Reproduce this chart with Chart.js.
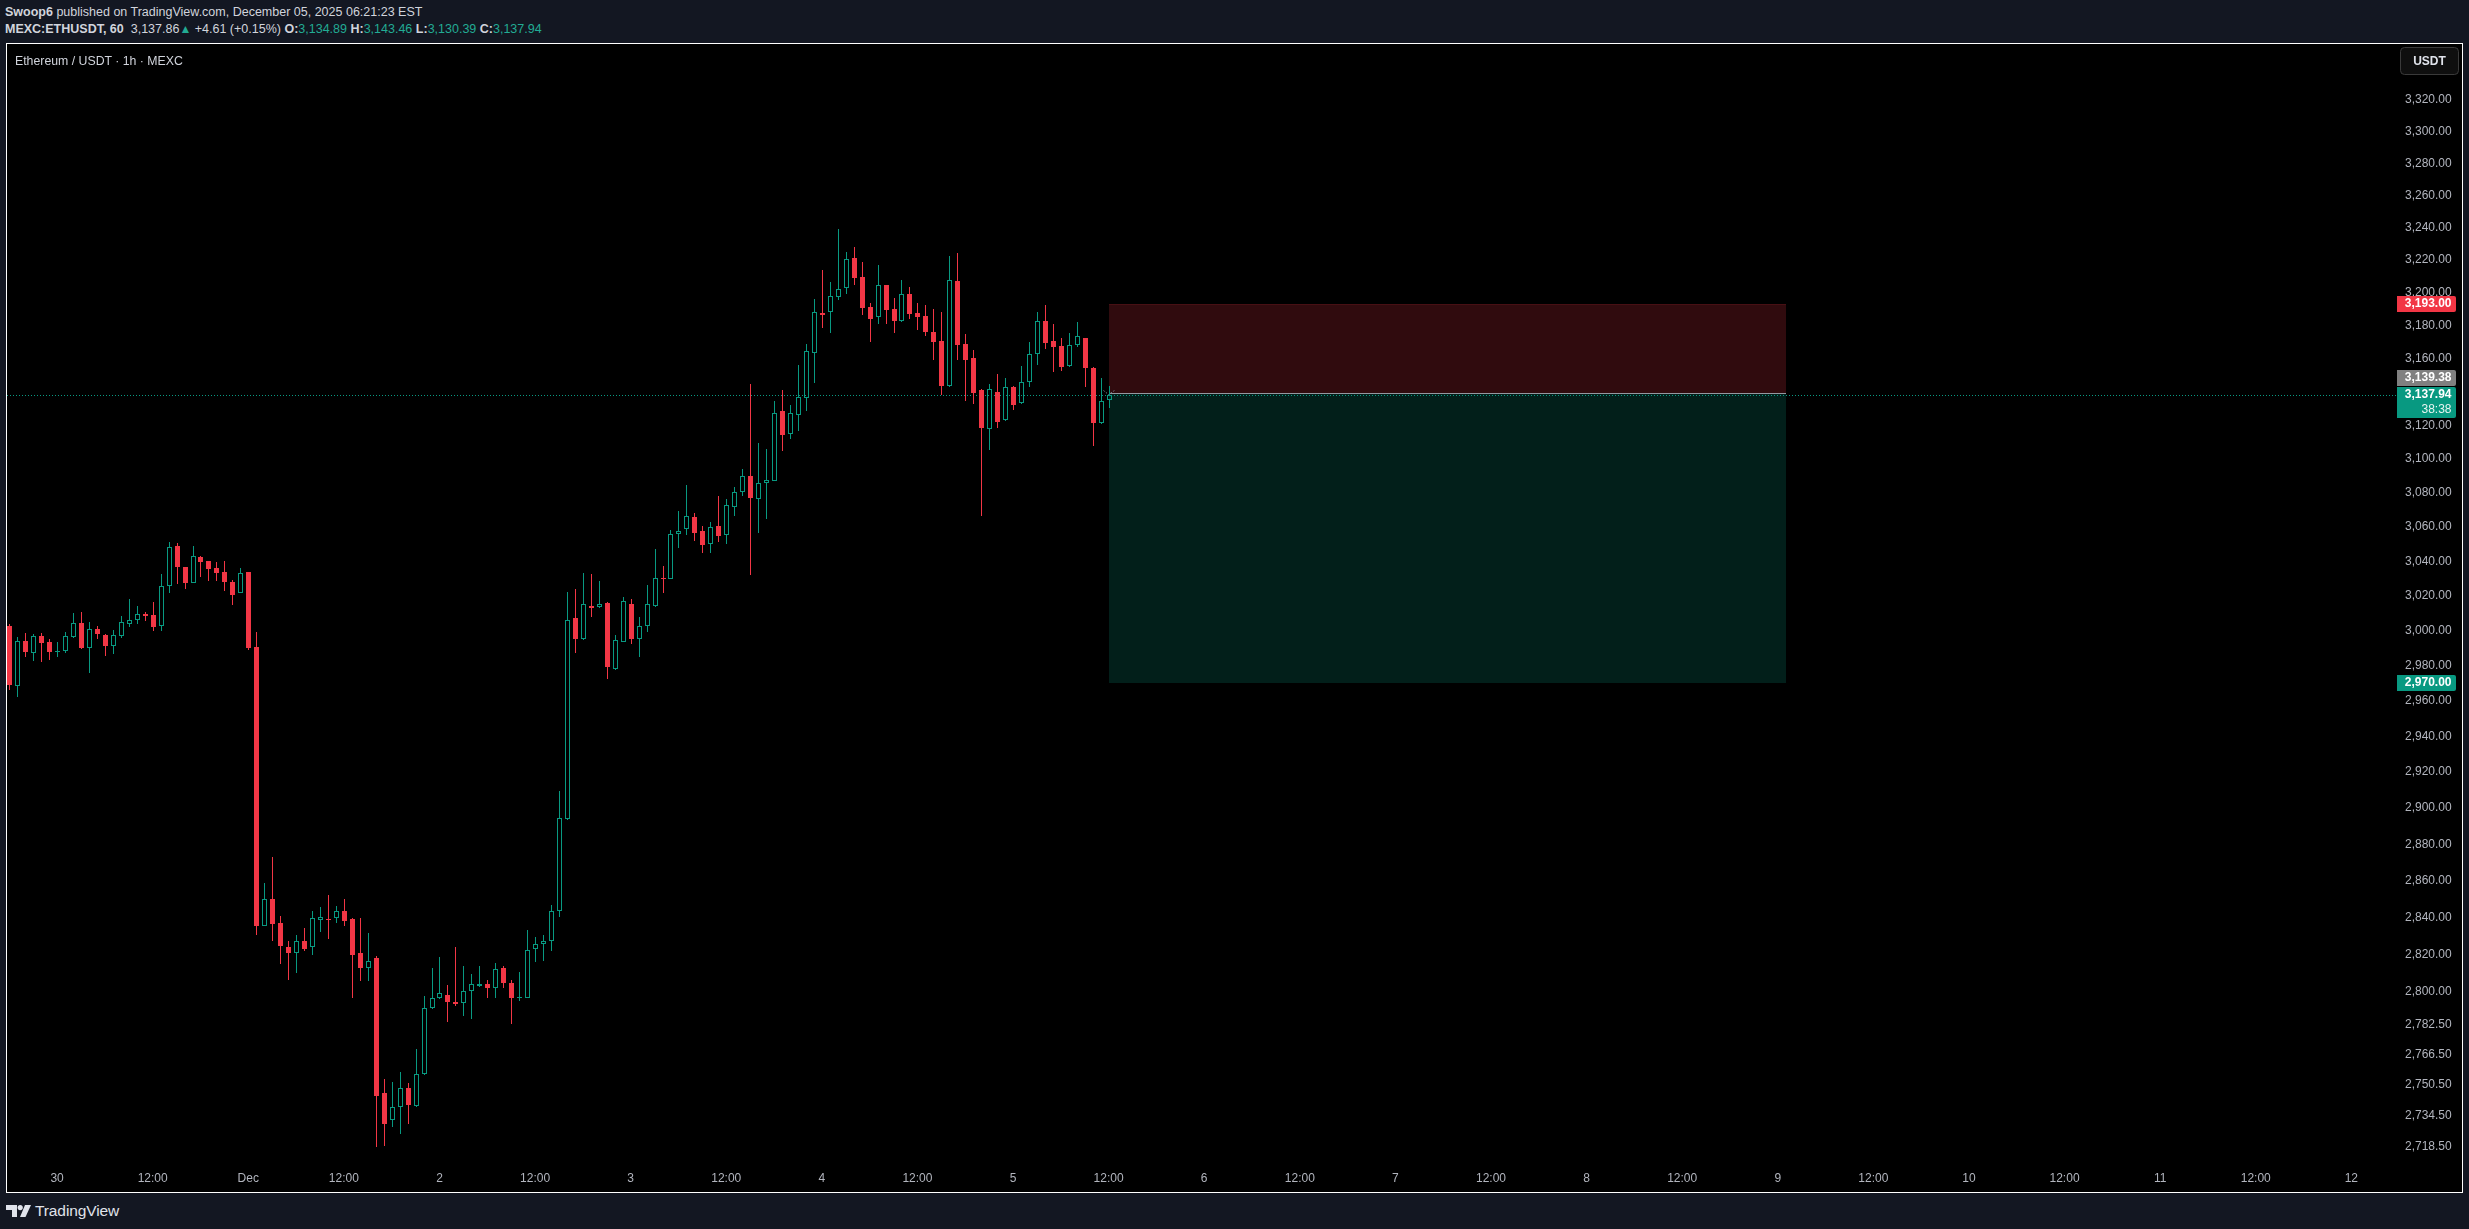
<!DOCTYPE html>
<html>
<head>
<meta charset="utf-8">
<title>ETHUSDT 1h</title>
<script src="https://cdn.jsdelivr.net/npm/chart.js@4.4.1/dist/chart.umd.min.js"></script>
<style>
  html, body { margin: 0; padding: 0; background: #131722; width: 2469px; height: 1229px; overflow: hidden;
    font-family: "Liberation Sans", Arial, sans-serif; }
  #hdr { position: absolute; left: 5px; top: 4px; color: #d1d4dc; font-size: 12.5px; line-height: 17px; white-space: nowrap; }
  #hdr b { font-weight: 700; }
  #hdr .v { color: #22ab94; }
  #hdr .up { color: #22ab94; font-size: 12px; }
  #frame { position: absolute; left: 6px; top: 43px; width: 2457px; height: 1150px; box-sizing: border-box;
    border: 1px solid #ffffff; background: #000; }
  #chart { position: absolute; left: 0; top: 0; }
  #title { position: absolute; left: 8px; top: 9px; color: #d1d4dc; font-size: 12.3px; line-height: 17px; white-space: nowrap; }
  #logo { position: absolute; left: 6px; top: 1202px; height: 18px; display: flex; align-items: center; color: #e0e3eb;
    font-size: 15.5px; letter-spacing: -0.1px; }
  #logo svg { margin-right: 4px; }
</style>
</head>
<body>

<div id="hdr">
  <div><b>Swoop6</b> published on TradingView.com, December 05, 2025 06:21:23 EST</div>
  <div><b>MEXC:ETHUSDT, 60</b>&nbsp; 3,137.86<span class="up">▲</span> +4.61 (+0.15%) <b>O:</b><span class="v">3,134.89</span> <b>H:</b><span class="v">3,143.46</span> <b>L:</b><span class="v">3,130.39</span> <b>C:</b><span class="v">3,137.94</span></div>
</div>

<div id="frame">
  <canvas id="chart" width="2455" height="1148"></canvas>
  <div id="title">Ethereum / USDT · 1h · MEXC</div>
</div>

<div id="logo">
  <svg width="25" height="12" viewBox="0 0 25 12">
    <path d="M0 0h11v12h-5v-7h-6z" fill="#e0e3eb"/>
    <circle cx="14.2" cy="2.6" r="2.6" fill="#e0e3eb"/>
    <path d="M19 0h6l-5.5 12h-5.5z" fill="#e0e3eb"/>
  </svg>
  <span>TradingView</span>
</div>

<script>
/* ─── Candles: 1h bars from Nov 29 18:00 (index 0) to Dec 5 12:00 (index 138) ─── */
const opens = [
  3002.7, 2968.6, 2994.1, 2987.4, 2996.9, 2993.5, 2988.0, 2988.5, 2996.4, 3004.2,
  2990.2, 3000.9, 2997.5, 2991.4, 2997.1, 3004.0, 3006.3, 3009.6, 3009.0, 3002.7,
  3025.9, 3048.8, 3036.7, 3027.6, 3042.5, 3040.1, 3036.1, 3033.8, 3028.0, 3021.6,
  3033.8, 2990.6, 2835.6, 2849.9, 2836.9, 2824.0, 2821.0, 2827.3, 2824.2, 2838.8,
  2839.3, 2839.5, 2843.4, 2839.3, 2820.7, 2812.5, 2818.0, 2746.3, 2732.1, 2738.8,
  2748.9, 2739.3, 2756.2, 2791.2, 2796.5, 2798.3, 2794.4, 2794.2, 2800.3, 2803.3,
  2804.0, 2802.2, 2812.8, 2804.8, 2796.8, 2796.8, 2823.1, 2825.8, 2827.0, 2843.7,
  2894.0, 3007.3, 2994.9, 3014.1, 3013.4, 3015.9, 2977.9, 2993.7, 3015.2, 2994.9,
  3002.4, 3013.9, 3030.5, 3029.6, 3055.7, 3059.0, 3065.7, 3057.6, 3050.2, 3060.5,
  3055.0, 3071.9, 3080.7, 3089.7, 3076.4, 3085.5, 3087.2, 3128.4, 3114.6, 3126.3,
  3136.5, 3163.6, 3187.4, 3188.0, 3197.2, 3202.7, 3221.3, 3209.6, 3191.3, 3185.0,
  3204.7, 3189.9, 3183.0, 3199.2, 3187.6, 3185.8, 3176.1, 3170.6, 3143.3, 3207.2,
  3168.5, 3160.4, 3141.2, 3118.0, 3139.9, 3123.0, 3143.0, 3133.1, 3145.8, 3162.6,
  3182.8, 3170.6, 3167.6, 3155.4, 3168.3, 3172.5, 3154.4, 3121.5, 3134.89
];
const highs = [
  3003.8, 2996.4, 2998.7, 2998.1, 2998.7, 2995.2, 2993.5, 2999.2, 3010.1, 3010.7,
  3005.0, 3002.5, 2997.8, 3000.4, 3008.4, 3018.2, 3014.2, 3010.7, 3016.5, 3032.6,
  3051.2, 3050.6, 3036.9, 3048.8, 3043.0, 3040.3, 3039.6, 3040.1, 3029.2, 3036.1,
  3034.0, 2998.9, 2859.0, 2873.0, 2840.9, 2827.3, 2830.5, 2834.4, 2843.4, 2845.8,
  2852.2, 2846.2, 2849.9, 2839.7, 2839.7, 2831.6, 2818.9, 2753.7, 2752.2, 2757.4,
  2751.6, 2769.5, 2797.7, 2812.8, 2818.6, 2803.6, 2824.0, 2813.8, 2809.5, 2813.8,
  2806.0, 2815.4, 2813.8, 2806.4, 2810.6, 2833.3, 2829.5, 2830.6, 2847.0, 2909.4,
  3022.3, 3023.9, 3033.2, 3032.7, 3028.7, 3016.5, 2997.5, 3019.3, 3018.1, 3007.8,
  3026.3, 3047.1, 3037.2, 3058.3, 3069.3, 3084.6, 3068.0, 3060.5, 3062.9, 3078.1,
  3076.2, 3083.4, 3094.0, 3144.7, 3109.5, 3105.9, 3134.6, 3141.2, 3131.9, 3156.2,
  3168.9, 3196.1, 3213.9, 3206.6, 3239.2, 3225.0, 3228.1, 3218.8, 3193.7, 3216.9,
  3204.9, 3196.7, 3207.8, 3203.5, 3193.7, 3192.5, 3190.1, 3188.3, 3222.5, 3224.4,
  3175.1, 3165.2, 3141.6, 3144.8, 3150.9, 3148.4, 3143.7, 3155.6, 3170.1, 3188.3,
  3192.5, 3180.7, 3172.5, 3175.7, 3182.4, 3172.7, 3155.0, 3148.0, 3143.46
];
const lows = [
  2966.2, 2962.4, 2984.9, 2982.8, 2982.1, 2983.2, 2984.9, 2987.4, 2995.8, 2989.5,
  2975.8, 2995.2, 2985.5, 2986.6, 2996.0, 3002.1, 3003.8, 3005.5, 2999.8, 2999.8,
  3021.6, 3026.8, 3024.0, 3027.4, 3030.9, 3028.6, 3028.6, 3022.8, 3014.7, 3021.4,
  2988.9, 2830.7, 2835.4, 2827.5, 2814.6, 2806.5, 2810.2, 2821.9, 2819.6, 2832.1,
  2828.4, 2836.9, 2835.3, 2796.7, 2805.8, 2805.8, 2718.3, 2718.8, 2728.6, 2725.1,
  2730.3, 2739.1, 2756.0, 2791.0, 2796.3, 2783.7, 2792.6, 2786.9, 2785.3, 2802.7,
  2796.8, 2796.8, 2802.2, 2782.6, 2795.2, 2796.6, 2816.1, 2816.7, 2822.1, 2840.5,
  2893.6, 2987.4, 2994.7, 3007.5, 3012.7, 2972.3, 2977.7, 2993.5, 2992.5, 2985.1,
  2999.2, 3013.7, 3021.4, 3029.4, 3047.8, 3055.2, 3051.9, 3044.5, 3044.9, 3050.9,
  3050.2, 3066.6, 3078.3, 3031.8, 3056.6, 3064.7, 3087.0, 3104.9, 3111.7, 3116.6,
  3128.7, 3145.1, 3178.4, 3175.3, 3195.7, 3199.4, 3204.9, 3186.6, 3170.2, 3181.1,
  3181.1, 3175.3, 3182.4, 3184.2, 3177.5, 3173.5, 3159.4, 3138.3, 3143.1, 3159.4,
  3134.7, 3132.9, 3066.5, 3105.5, 3118.6, 3122.8, 3129.3, 3132.9, 3143.1, 3156.3,
  3166.0, 3151.9, 3152.5, 3155.2, 3166.8, 3143.1, 3107.9, 3120.9, 3130.39
];
const closes = [
  2969.0, 2994.1, 2987.9, 2996.9, 2993.1, 2987.9, 2988.5, 2996.9, 3004.2, 2990.0,
  3000.9, 2998.3, 2991.2, 2997.5, 3005.0, 3006.1, 3009.6, 3008.4, 3002.1, 3025.7,
  3048.3, 3036.7, 3027.4, 3043.0, 3039.6, 3035.5, 3033.2, 3028.0, 3020.5, 3033.2,
  2990.0, 2835.6, 2849.9, 2836.7, 2824.7, 2821.0, 2827.3, 2823.1, 2839.7, 2840.2,
  2838.8, 2843.4, 2837.8, 2819.8, 2812.5, 2816.2, 2744.7, 2730.0, 2738.8, 2748.9,
  2740.1, 2756.2, 2791.1, 2796.5, 2799.2, 2794.7, 2793.3, 2800.3, 2804.0, 2804.0,
  2802.2, 2812.1, 2804.9, 2796.8, 2797.2, 2822.4, 2825.7, 2827.3, 2843.5, 2894.2,
  3005.9, 2994.9, 3015.0, 3012.7, 3015.0, 2979.3, 2994.4, 3016.9, 2994.9, 3002.4,
  3015.2, 3030.1, 3029.6, 3055.7, 3057.4, 3066.2, 3056.6, 3049.7, 3059.8, 3054.7,
  3072.6, 3080.3, 3089.7, 3076.9, 3085.6, 3087.4, 3127.1, 3114.0, 3127.1, 3136.8,
  3164.4, 3188.0, 3186.6, 3197.8, 3202.1, 3220.5, 3209.2, 3190.8, 3184.2, 3204.5,
  3189.5, 3183.0, 3199.0, 3187.2, 3185.4, 3175.9, 3170.2, 3143.7, 3207.6, 3168.0,
  3159.4, 3139.5, 3118.6, 3141.6, 3122.2, 3142.9, 3132.3, 3145.8, 3162.6, 3182.6,
  3169.6, 3167.2, 3155.2, 3168.3, 3173.8, 3154.0, 3121.5, 3134.3, 3137.94
];

/* ─── Time axis (hours from Nov 29 18:00) ─── */
const timeTickHours  = [6, 18, 30, 42, 54, 66, 78, 90, 102, 114, 126, 138, 150, 162, 174, 186,
                        198, 210, 222, 234, 246, 258, 270, 282, 294];
const timeTickLabels = ['30', '12:00', 'Dec', '12:00', '2', '12:00', '3', '12:00', '4', '12:00',
                        '5', '12:00', '6', '12:00', '7', '12:00', '8', '12:00', '9', '12:00',
                        '10', '12:00', '11', '12:00', '12'];

/* ─── Price axis (log scale, as TradingView labels it) ─── */
const priceTicks = [3320, 3300, 3280, 3260, 3240, 3220, 3200, 3180, 3160, 3120, 3100, 3080,
                    3060, 3040, 3020, 3000, 2980, 2960, 2940, 2920, 2900, 2880, 2860, 2840,
                    2820, 2800, 2782.5, 2766.5, 2750.5, 2734.5, 2718.5];

/* ─── Short position tool + last price ─── */
const stopPrice   = 3193.00;
const entryPrice  = 3139.38;
const targetPrice = 2970.00;
const lastPrice   = 3137.94;
const countdown   = '38:38';
const positionFrom = 138;   // hour index where the tool starts
const positionTo   = 223;   // hour index where the tool ends

/* ─── Styling ─── */
const GREEN = '#089981';
const RED   = '#F23645';
const AXIS_TEXT = '#b2b5be';
const FONT = '"Liberation Sans", Arial, sans-serif';

const fmtPrice = v => Number(v).toLocaleString('en-US', { minimumFractionDigits: 2, maximumFractionDigits: 2 });

function drawTag(ctx, area, top, h, bg, lines) {
  const x0 = area.right + 1, w = 59;
  ctx.fillStyle = bg;
  ctx.beginPath();
  ctx.roundRect(x0, top, w, h, [0, 2, 2, 0]);
  ctx.fill();
  ctx.textAlign = 'right';
  ctx.textBaseline = 'middle';
  lines.forEach((ln, k) => {
    ctx.fillStyle = ln.color || '#ffffff';
    ctx.font = `${ln.bold ? 'bold ' : ''}12px ${FONT}`;
    ctx.fillText(ln.text, x0 + 54.5, top + 8 + k * 15);
  });
}

const tradingViewLook = {
  id: 'tradingViewLook',
  beforeDatasetsDraw(chart) {
    const { ctx, chartArea: a, scales: { x, y } } = chart;
    ctx.save();
    ctx.beginPath();
    ctx.rect(a.left, a.top, a.right - a.left, a.bottom - a.top);
    ctx.clip();

    // position tool zones
    const bx0 = Math.round(x.getPixelForValue(positionFrom));
    const bx1 = Math.round(x.getPixelForValue(positionTo));
    const yS = Math.round(y.getPixelForValue(stopPrice));
    const yE = Math.round(y.getPixelForValue(entryPrice));
    const yT = Math.round(y.getPixelForValue(targetPrice));
    ctx.fillStyle = 'rgba(242,54,69,0.2)';
    ctx.fillRect(bx0, yS, bx1 - bx0, yE - yS);
    ctx.fillStyle = 'rgba(242,54,69,0.12)';
    ctx.fillRect(bx0, yS, bx1 - bx0, 1);
    ctx.fillStyle = 'rgba(8,153,129,0.2)';
    ctx.fillRect(bx0, yE, bx1 - bx0, yT - yE);
    ctx.fillStyle = '#9598a1';
    ctx.fillRect(bx0, yE, bx1 - bx0, 1);

    // small dashed entry marker
    ctx.strokeStyle = '#787b86';
    ctx.lineWidth = 1;
    ctx.setLineDash([1.5, 1.5]);
    ctx.beginPath();
    ctx.moveTo(bx0 - 5.5, yE - 2.5);
    ctx.lineTo(bx0 - 0.5, yE + 1.5);
    ctx.lineTo(bx0 + 5.5, yE - 2.5);
    ctx.stroke();

    // last price dotted line
    const yL = Math.round(y.getPixelForValue(lastPrice)) + 0.5;
    ctx.strokeStyle = GREEN;
    ctx.setLineDash([1, 2]);
    ctx.beginPath();
    ctx.moveTo(a.left, yL);
    ctx.lineTo(a.right, yL);
    ctx.stroke();
    ctx.setLineDash([]);

    // candles
    opens.forEach((o, i) => {
      const c = closes[i];
      const cx = Math.round(x.getPixelForValue(i));
      const yo = y.getPixelForValue(o), yc = y.getPixelForValue(c);
      const top = Math.round(Math.min(yo, yc));
      const bot = Math.max(top + 1, Math.round(Math.max(yo, yc)));
      const hi = Math.round(y.getPixelForValue(highs[i]));
      const lo = Math.round(y.getPixelForValue(lows[i]));
      if (c >= o) {
        ctx.fillStyle = GREEN;
        ctx.fillRect(cx, hi, 1, top - hi);
        ctx.fillRect(cx, bot, 1, lo - bot);
        if (bot - top <= 2) {
          ctx.fillRect(cx - 2, top, 5, bot - top);
        } else {
          ctx.strokeStyle = GREEN;
          ctx.strokeRect(cx - 1.5, top + 0.5, 4, bot - top - 1);
        }
      } else {
        ctx.fillStyle = RED;
        ctx.fillRect(cx, hi, 1, lo - hi);
        ctx.fillRect(cx - 2, top, 5, bot - top);
      }
    });
    ctx.restore();
  },
  afterDraw(chart) {
    const { ctx, chartArea: a, scales: { y } } = chart;
    ctx.save();
    // price tags on the axis
    const lastTop = Math.round(y.getPixelForValue(lastPrice)) - 8;
    drawTag(ctx, a, Math.round(y.getPixelForValue(stopPrice)) - 8, 16, RED,
      [{ text: fmtPrice(stopPrice), bold: true }]);
    drawTag(ctx, a, lastTop - 17, 16, '#808080',
      [{ text: fmtPrice(entryPrice), bold: true }]);
    drawTag(ctx, a, lastTop, 31, GREEN,
      [{ text: fmtPrice(lastPrice), bold: true }, { text: countdown, color: '#e6f4f1' }]);
    drawTag(ctx, a, Math.round(y.getPixelForValue(targetPrice)) - 8, 16, GREEN,
      [{ text: fmtPrice(targetPrice), bold: true }]);

    // currency button
    ctx.fillStyle = '#0f0f0f';
    ctx.strokeStyle = '#3a3a3a';
    ctx.lineWidth = 1;
    ctx.beginPath();
    ctx.roundRect(a.right + 4.5, 3.5, 58, 27, 4);
    ctx.fill();
    ctx.stroke();
    ctx.fillStyle = '#e0e3eb';
    ctx.font = `bold 12px ${FONT}`;
    ctx.textAlign = 'center';
    ctx.textBaseline = 'middle';
    ctx.fillText('USDT', a.right + 33.5, 17.5);
    ctx.restore();
  }
};

const ctx = document.getElementById('chart').getContext('2d');
new Chart(ctx, {
  type: 'line',
  data: {
    datasets: [{
      label: 'ETHUSDT',
      data: closes.map((c, i) => ({ x: i, y: c })),
      showLine: false,
      pointRadius: 0,
      borderWidth: 0
    }]
  },
  options: {
    responsive: false,
    animation: false,
    events: [],
    layout: { padding: 0 },
    plugins: { legend: { display: false }, tooltip: { enabled: false }, title: { display: false } },
    scales: {
      x: {
        type: 'linear',
        min: -0.289,
        max: 299.61,
        bounds: 'data',
        grid: { display: false, drawTicks: false },
        border: { display: false },
        afterBuildTicks: s => { s.ticks = timeTickHours.map(v => ({ value: v })); },
        afterFit: s => { s.height = 29; s.paddingLeft = 0; s.paddingRight = 0; },
        ticks: {
          autoSkip: false,
          maxRotation: 0,
          padding: 8,
          color: AXIS_TEXT,
          font: { family: FONT, size: 12 },
          callback: v => timeTickLabels[timeTickHours.indexOf(v)]
        }
      },
      y: {
        type: 'logarithmic',
        position: 'right',
        min: 2709.85,
        max: 3355.7,
        bounds: 'data',
        grid: { display: false, drawTicks: false },
        border: { display: false },
        afterBuildTicks: s => { s.ticks = priceTicks.map(v => ({ value: v })); },
        afterFit: s => { s.width = 66; s.paddingTop = 0; s.paddingBottom = 0; },
        ticks: {
          autoSkip: false,
          crossAlign: 'near',
          padding: 9,
          color: AXIS_TEXT,
          font: { family: FONT, size: 12 },
          callback: v => fmtPrice(v)
        }
      }
    }
  },
  plugins: [tradingViewLook]
});
</script>
</body>
</html>
